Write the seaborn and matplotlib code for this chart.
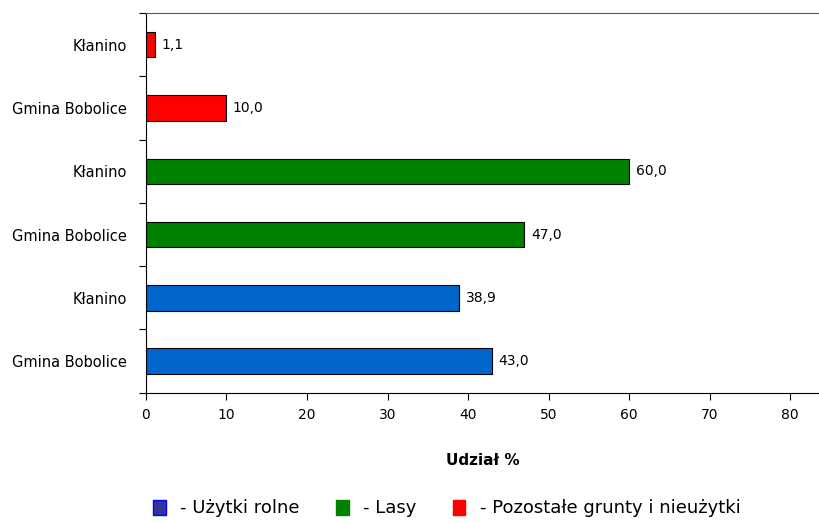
import pandas as pd
import seaborn as sns
import matplotlib.pyplot as plt
from matplotlib.patches import Patch

# rows from top to bottom
labels = ['Kłanino', 'Gmina Bobolice', 'Kłanino', 'Gmina Bobolice', 'Kłanino', 'Gmina Bobolice']
values = [1.1, 10.0, 60.0, 47.0, 38.9, 43.0]
groups = ['Pozostałe grunty i nieużytki', 'Pozostałe grunty i nieużytki', 'Lasy', 'Lasy',
          'Użytki rolne', 'Użytki rolne']
legend_order = ['Użytki rolne', 'Lasy', 'Pozostałe grunty i nieużytki']
colors = {'Użytki rolne': '#0066CC', 'Lasy': '#008000', 'Pozostałe grunty i nieużytki': '#FF0000'}
legend_colors = {'Użytki rolne': '#333399', 'Lasy': '#008000', 'Pozostałe grunty i nieużytki': '#FF0000'}
legend_edges = {'Użytki rolne': '#0000FF', 'Lasy': '#008000', 'Pozostałe grunty i nieużytki': '#FF0000'}

df = pd.DataFrame({'row': [str(i) for i in range(len(labels))], 'label': labels,
                   'value': values, 'group': groups})

sns.set_style('white')
plt.rcParams['font.family'] = ['DejaVu Sans']
plt.rcParams['text.color'] = 'black'
plt.rcParams['xtick.color'] = 'black'
plt.rcParams['ytick.color'] = 'black'
plt.rcParams['axes.labelcolor'] = 'black'

fig = plt.figure(figsize=(8.2, 5.23), dpi=100)
ax = fig.add_axes([0.178, 0.249, 0.822, 0.726])

sns.barplot(data=df, x='value', y='row', hue='group', palette=colors, dodge=False, saturation=1,
            width=0.4, edgecolor='black', linewidth=0.8, legend=False, ax=ax)

for i, v in enumerate(values):
    ax.text(v + 0.8, i, f'{v:.1f}'.replace('.', ','), va='center', ha='left', fontsize=10)

ax.set_xlim(0, 83.7)
ax.set_ylim(5.5, -0.5)
ax.set_xticks(range(0, 90, 10))
ax.tick_params(axis='x', length=5, width=0.8, labelsize=10, pad=6, direction='out', bottom=True)

ax.set_yticks([i - 0.5 for i in range(len(labels) + 1)])
ax.set_yticklabels([])
ax.set_yticks(range(len(labels)), minor=True)
ax.set_yticklabels(labels, minor=True)
ax.tick_params(axis='y', which='major', length=5, width=0.8, direction='out', left=True)
ax.tick_params(axis='y', which='minor', length=0, labelsize=10.5, pad=14)

ax.set_ylabel('')
ax.set_xlabel('Udział %', fontsize=11, fontweight='bold', labelpad=22)
for s in ['left', 'bottom', 'top']:
    ax.spines[s].set_color('black')
    ax.spines[s].set_linewidth(0.8)
ax.spines['top'].set_color('#555555')
ax.spines['right'].set_visible(False)

handles = [Patch(facecolor=legend_colors[g], edgecolor=legend_edges[g], label='- ' + g)
           for g in legend_order]
fig.legend(handles=handles, loc='center', bbox_to_anchor=(0.545, 0.028), ncol=3, frameon=False,
           fontsize=13, handlelength=0.7, handleheight=0.9, columnspacing=2.0, handletextpad=0.8,
           borderpad=0.2)

fig.savefig('out.png', dpi=100)
